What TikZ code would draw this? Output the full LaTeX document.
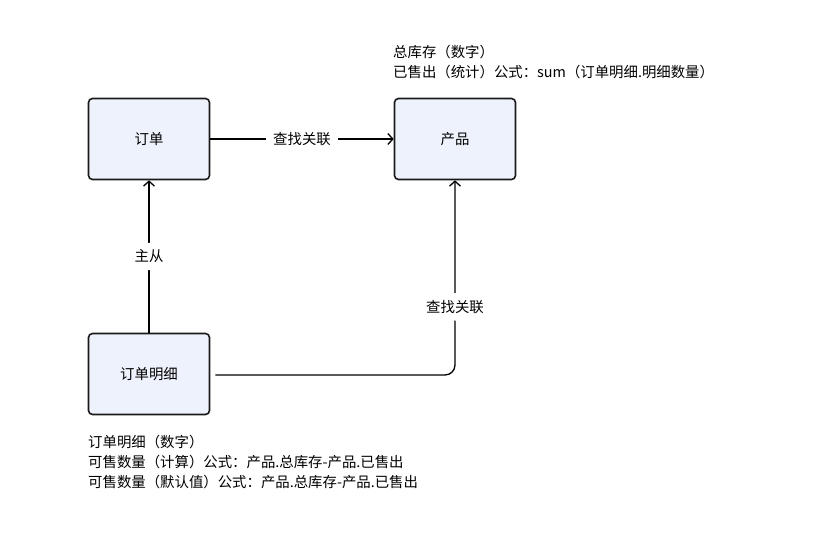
\documentclass[tikz,border=0pt]{standalone}
\usepackage{fontspec}
\newfontfamily\cjk{Noto Sans CJK SC}
\usetikzlibrary{positioning, arrows.meta}
\definecolor{boxfill}{HTML}{EEF2FC}
\definecolor{boxline}{HTML}{1A1A1A}
\begin{document}
\begin{tikzpicture}[x=1pt, y=-1pt, font=\cjk\fontsize{14.4}{17}\selectfont,
	entity/.style={rectangle, rounded corners=4pt, draw=boxline, line width=1.6pt, fill=boxfill, minimum width=121pt, minimum height=81pt},
	link/.style={-{Straight Barb[length=5pt, width=11pt, line width=1.3pt]}, line width=1.3pt, rounded corners=10pt},
	tag/.style={fill=white, inner sep=7pt},
	note/.style={align=left, anchor=north west, inner sep=0pt}]
		\useasboundingbox (0,0) rectangle (813,554);
		\node[entity] (order) at (149,139) {订单};
		\node[entity] (product) at (455,139) {产品};
		\node[entity] (detail) at (149,374) {订单明细};
		\node[note] (pnote) at (393,45) {总库存（数字）\\[3pt]已售出（统计）公式：sum（订单明细.明细数量）};
		\node[note] (dnote) at (88,435) {订单明细（数字）\\[3pt]可售数量（计算）公式：产品.总库存-产品.已售出\\[3pt]可售数量（默认值）公式：产品.总库存-产品.已售出};
		\coordinate (bend) at (455,375);
		
		\draw[link] (order) -- node[tag] {查找关联} (product);
		\draw[link] (detail) -- node[tag] {主从} (order);
		\draw[link] (detail.east |- bend) ++(5,0) -- (bend) -- node[tag, pos=0.35] {查找关联} (product.south);
	\end{tikzpicture}
\end{document}
